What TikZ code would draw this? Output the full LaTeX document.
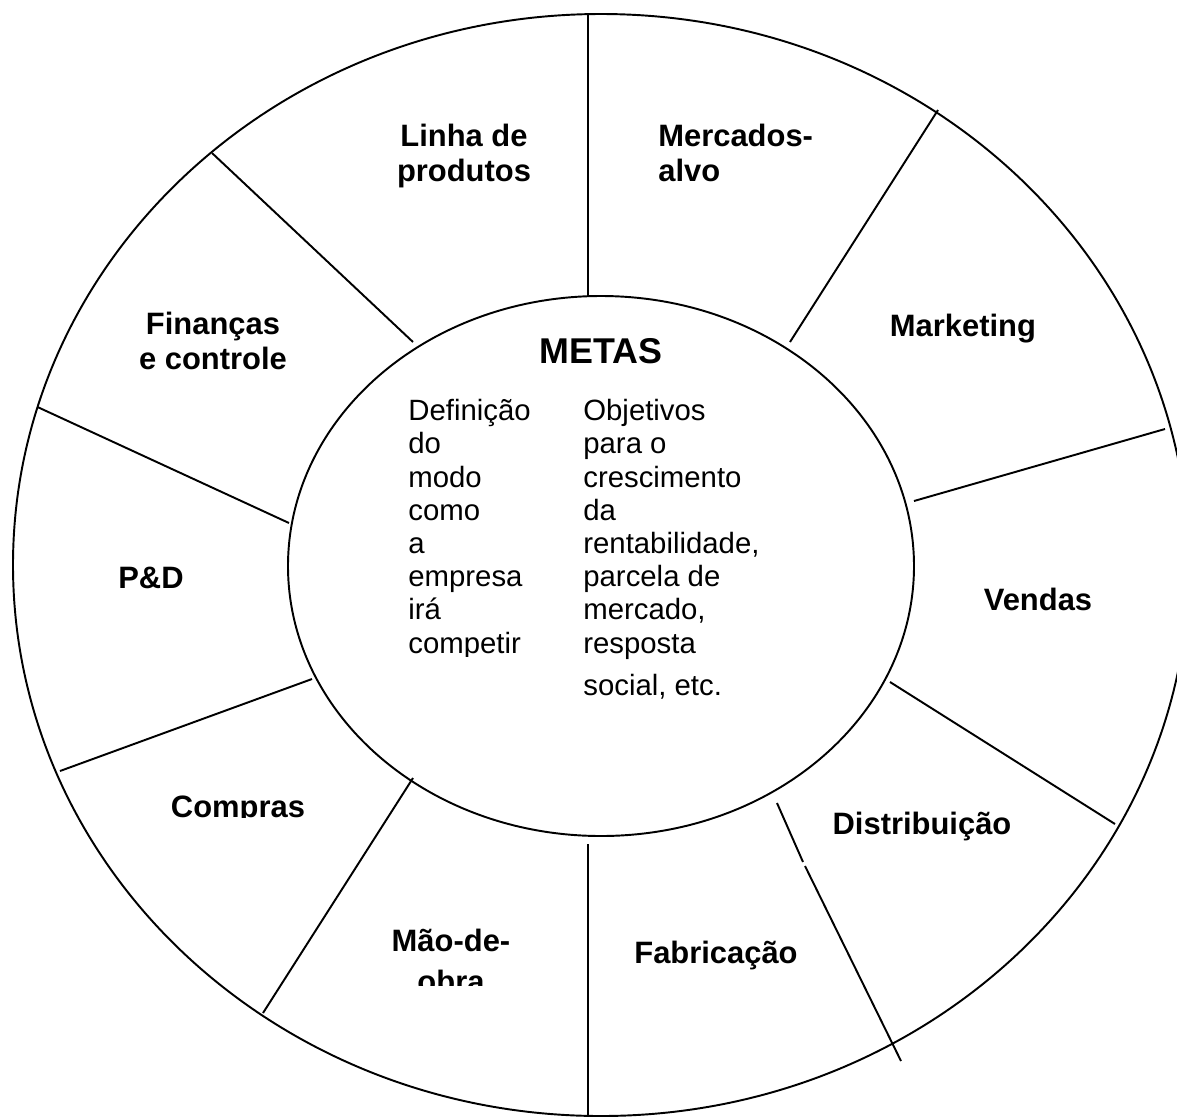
\documentclass[tikz,border=0pt]{standalone}
\usepackage{fontspec}
\setmainfont{Liberation Sans}
\usetikzlibrary{positioning}
\tikzstyle{ring}=[line width=1.1pt,black]
\tikzstyle{spoke}=[line width=1.1pt,black]

\begin{document}
\begin{tikzpicture}[x=0.02cm, y=-0.02cm,
                    AREA/.style = {font=\bfseries\fontsize{17.6}{20}\selectfont,
                              inner sep=0pt, align=center},
                    TXT/.style = {font=\fontsize{16.7}{18.9}\selectfont,
                              inner sep=0pt, align=left, anchor=north west}
               ]
               \clip (0,0) rectangle (1177,1117);
               % rings
               \draw[ring] (601,565) ellipse [x radius=588, y radius=551];
               \draw[ring] (601,566) ellipse [x radius=313, y radius=270];
               % spokes, inner end / outer end
               \foreach \xa/\ya/\xb/\yb in {588/296/588/14,   790/342/938/110,
                                            914/501/1165/429, 890/682/1115/824,
                                            805/866/901/1061, 588/844/588/1117,
                                            413/778/263/1013, 312/679/60/771,
                                            289/523/37.5/407, 413/342/212/153}
                    \draw[spoke] (\xa,\ya) -- (\xb,\yb);
               \draw[spoke] (777,803) -- (803,862); % broken piece

               % outer areas
               \node[AREA, anchor=north] (linha) at (464,124) {Linha de\\produtos};
               \node[AREA, anchor=north west, align=left] (alvo) at (658,124) {Mercados-\\alvo};
               \node[AREA, anchor=base] (mkt) at (963,336) {Marketing};
               \begin{scope}
                    \clip (980,570) rectangle (1100,610);
                    \node[AREA, anchor=base] (vendas) at (1038,610) {Vendas};
               \end{scope}
               \node[AREA, anchor=base] (dist) at (922,834) {Distribuição};
               \node[AREA, anchor=base] (fab) at (716,963) {Fabricação};
               \begin{scope}
                    \clip (380,910) rectangle (530,985);
                    \node[AREA, font=\bfseries\fontsize{17.6}{23.2}\selectfont,
                          anchor=north] (mao) at (451,929) {Mão-de-\\obra};
               \end{scope}
               \begin{scope}
                    \clip (160,780) rectangle (320,817);
                    \node[AREA, anchor=base] (compras) at (238,817) {Compras};
               \end{scope}
               \node[AREA, anchor=base] (pd) at (151,588) {P\&D};
               \node[AREA, anchor=north] (fin) at (213,312) {Finanças\\e controle};

               % centre
               \node[font=\bfseries\fontsize{20.4}{24}\selectfont, anchor=base] (metas) at (601,363) {METAS};
               \begin{scope}
                    \clip (400,390) rectangle (560,656);
                    \node[TXT] (modo) at (408,399) {Definição\\do\\modo\\como\\a\\empresa\\irá\\competir};
               \end{scope}
               \node[TXT] (obj) at (583,399) {Objetivos\\para o\\crescimento\\da\\rentabilidade,\\parcela de\\mercado,\\resposta\\[5pt]social, etc.};
          \end{tikzpicture}
\end{document}
